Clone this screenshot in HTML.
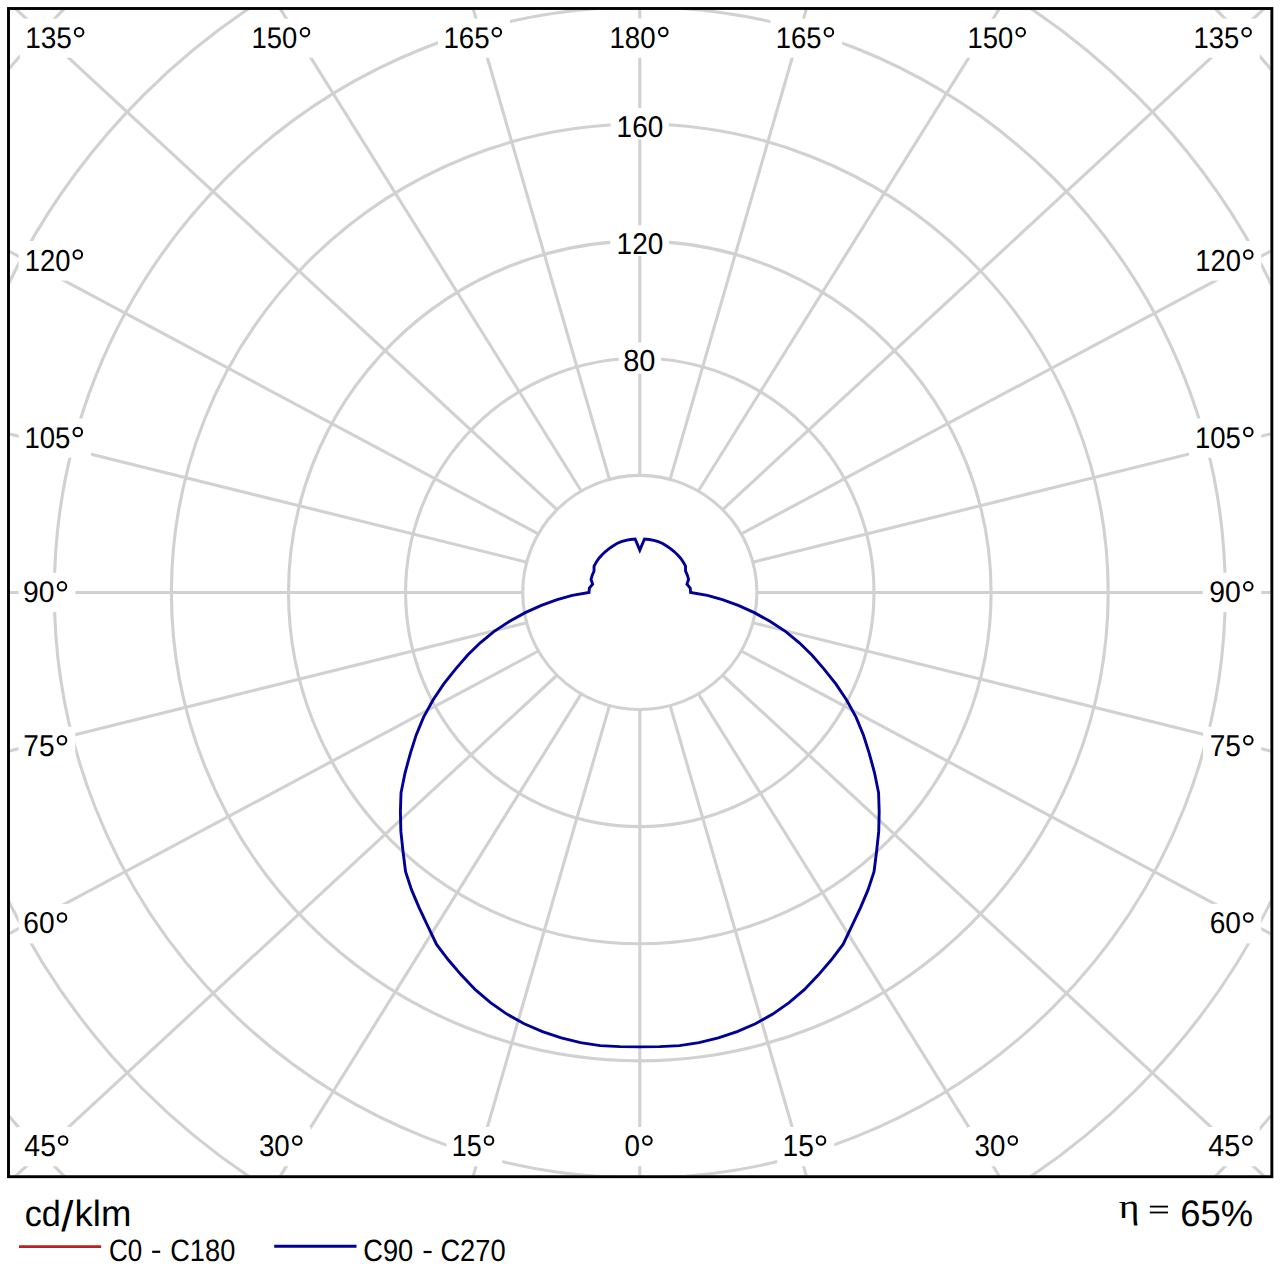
<!DOCTYPE html>
<html><head><meta charset="utf-8"><title>Polar LDC</title>
<style>html,body{margin:0;padding:0;background:#fff;}body{width:1280px;height:1280px;overflow:hidden;}svg{display:block;}text{text-rendering:geometricPrecision;}</style></head>
<body><svg width="1280" height="1280" viewBox="0 0 1280 1280">
<rect width="1280" height="1280" fill="#fff"/>
<clipPath id="cp"><rect x="10.0" y="10.0" width="1260.6" height="1165.4"/></clipPath>
<g clip-path="url(#cp)" fill="none" stroke="#d1d1d1" stroke-width="3.1">
<circle cx="639.8" cy="592.45" r="117.1"/>
<circle cx="639.8" cy="592.45" r="234.2"/>
<circle cx="639.8" cy="592.45" r="351.3"/>
<circle cx="639.8" cy="592.45" r="468.4"/>
<circle cx="639.8" cy="592.45" r="585.5"/>
<circle cx="639.8" cy="592.45" r="702.6"/>
<circle cx="639.8" cy="592.45" r="819.7"/>
<line x1="639.8" y1="709.55" x2="639.8" y2="1179.4"/>
<line x1="609.49" y1="705.56" x2="472.29" y2="1179.24"/>
<line x1="670.11" y1="705.56" x2="807.31" y2="1179.24"/>
<line x1="581.25" y1="693.86" x2="278.6" y2="1178.79"/>
<line x1="698.35" y1="693.86" x2="1001" y2="1178.79"/>
<line x1="557" y1="675.25" x2="13.4" y2="1178.12"/>
<line x1="722.6" y1="675.25" x2="1266.2" y2="1178.12"/>
<line x1="538.39" y1="651" x2="6.47" y2="935.09"/>
<line x1="741.21" y1="651" x2="1274.13" y2="935.62"/>
<line x1="526.69" y1="622.76" x2="6.12" y2="751.79"/>
<line x1="752.91" y1="622.76" x2="1274.48" y2="752.04"/>
<line x1="522.7" y1="592.45" x2="6" y2="592.45"/>
<line x1="756.9" y1="592.45" x2="1274.6" y2="592.45"/>
<line x1="526.69" y1="562.14" x2="6.12" y2="433.11"/>
<line x1="752.91" y1="562.14" x2="1274.48" y2="432.86"/>
<line x1="538.39" y1="533.9" x2="6.47" y2="249.81"/>
<line x1="741.21" y1="533.9" x2="1274.13" y2="249.28"/>
<line x1="557" y1="509.65" x2="13.94" y2="7.28"/>
<line x1="722.6" y1="509.65" x2="1265.66" y2="7.28"/>
<line x1="581.25" y1="491.04" x2="278.91" y2="6.61"/>
<line x1="698.35" y1="491.04" x2="1000.69" y2="6.61"/>
<line x1="609.49" y1="479.34" x2="472.43" y2="6.16"/>
<line x1="670.11" y1="479.34" x2="807.17" y2="6.16"/>
<line x1="639.8" y1="475.35" x2="639.8" y2="6"/>
</g>
<rect x="19.8" y="18.6" width="72.6" height="39.2" fill="#fff"/>
<rect x="246.2" y="18.6" width="72.1" height="39.2" fill="#fff"/>
<rect x="438" y="18.6" width="72.1" height="39.2" fill="#fff"/>
<rect x="770.4" y="18.6" width="71.8" height="39.2" fill="#fff"/>
<rect x="962.2" y="18.6" width="71.8" height="39.2" fill="#fff"/>
<rect x="1188.1" y="18.6" width="71.8" height="39.2" fill="#fff"/>
<rect x="604.1" y="18.4" width="72.5" height="39.4" fill="#fff"/>
<rect x="17.5" y="1126.9" width="58.9" height="39.4" fill="#fff"/>
<rect x="252.5" y="1126.9" width="58.1" height="39.4" fill="#fff"/>
<rect x="446.4" y="1126.9" width="55.9" height="39.4" fill="#fff"/>
<rect x="618.2" y="1126.9" width="42.5" height="39.4" fill="#fff"/>
<rect x="777.2" y="1126.9" width="57.1" height="39.4" fill="#fff"/>
<rect x="968.1" y="1126.9" width="58" height="39.4" fill="#fff"/>
<rect x="1201.4" y="1126.9" width="58.3" height="39.4" fill="#fff"/>
<rect x="18.6" y="241" width="72.5" height="39.6" fill="#fff"/>
<rect x="1189.4" y="241" width="71.85" height="39.6" fill="#fff"/>
<rect x="18.6" y="418.5" width="72.5" height="39.3" fill="#fff"/>
<rect x="1189" y="418.5" width="72.25" height="39.3" fill="#fff"/>
<rect x="18.6" y="572.8" width="56.7" height="39.2" fill="#fff"/>
<rect x="1202.7" y="572.8" width="58.55" height="39.2" fill="#fff"/>
<rect x="18.6" y="726.7" width="56.7" height="39.2" fill="#fff"/>
<rect x="1203.1" y="726.7" width="58.15" height="39.2" fill="#fff"/>
<rect x="18.6" y="903.9" width="56.7" height="39.5" fill="#fff"/>
<rect x="1203.1" y="903.9" width="58.15" height="39.5" fill="#fff"/>
<rect x="610.6" y="108.1" width="58.15" height="31.3" fill="#fff"/>
<rect x="610.3" y="225.2" width="58.7" height="30.9" fill="#fff"/>
<rect x="618.75" y="342.5" width="42.25" height="31.25" fill="#fff"/>
<text transform="translate(25.17 47.71) scale(0.94 1)" style="font-family:&quot;Liberation Sans&quot;, sans-serif;font-size:29.8px" fill="#000">135</text>
<ellipse cx="79.1" cy="32.15" rx="4.3" ry="4.25" fill="none" stroke="#000" stroke-width="2.0"/>
<text transform="translate(251.6 47.71) scale(0.92 1)" style="font-family:&quot;Liberation Sans&quot;, sans-serif;font-size:29.8px" fill="#000">150</text>
<ellipse cx="305" cy="32.15" rx="4.3" ry="4.25" fill="none" stroke="#000" stroke-width="2.0"/>
<text transform="translate(443.4 47.71) scale(0.93 1)" style="font-family:&quot;Liberation Sans&quot;, sans-serif;font-size:29.8px" fill="#000">165</text>
<ellipse cx="496.8" cy="32.15" rx="4.3" ry="4.25" fill="none" stroke="#000" stroke-width="2.0"/>
<text transform="translate(775.81 47.71) scale(0.92 1)" style="font-family:&quot;Liberation Sans&quot;, sans-serif;font-size:29.8px" fill="#000">165</text>
<ellipse cx="828.9" cy="32.15" rx="4.3" ry="4.25" fill="none" stroke="#000" stroke-width="2.0"/>
<text transform="translate(967.62 47.71) scale(0.92 1)" style="font-family:&quot;Liberation Sans&quot;, sans-serif;font-size:29.8px" fill="#000">150</text>
<ellipse cx="1020.7" cy="32.15" rx="4.3" ry="4.25" fill="none" stroke="#000" stroke-width="2.0"/>
<text transform="translate(1193.51 47.71) scale(0.92 1)" style="font-family:&quot;Liberation Sans&quot;, sans-serif;font-size:29.8px" fill="#000">135</text>
<ellipse cx="1246.6" cy="32.15" rx="4.3" ry="4.25" fill="none" stroke="#000" stroke-width="2.0"/>
<text transform="translate(609.48 47.71) scale(0.92 1)" style="font-family:&quot;Liberation Sans&quot;, sans-serif;font-size:30.08px" fill="#000">180</text>
<ellipse cx="663.3" cy="31.95" rx="4.3" ry="4.25" fill="none" stroke="#000" stroke-width="2.0"/>
<text transform="translate(24.35 1156.2) scale(0.93 1)" style="font-family:&quot;Liberation Sans&quot;, sans-serif;font-size:30.53px" fill="#000">45</text>
<ellipse cx="63.1" cy="1140.45" rx="4.3" ry="4.25" fill="none" stroke="#000" stroke-width="2.0"/>
<text transform="translate(258.94 1156.21) scale(0.92 1)" style="font-family:&quot;Liberation Sans&quot;, sans-serif;font-size:30.08px" fill="#000">30</text>
<ellipse cx="297.3" cy="1140.45" rx="4.3" ry="4.25" fill="none" stroke="#000" stroke-width="2.0"/>
<text transform="translate(451.86 1156.2) scale(0.88 1)" style="font-family:&quot;Liberation Sans&quot;, sans-serif;font-size:30.53px" fill="#000">15</text>
<ellipse cx="489" cy="1140.45" rx="4.3" ry="4.25" fill="none" stroke="#000" stroke-width="2.0"/>
<text transform="translate(624.62 1156.21) scale(0.92 1)" style="font-family:&quot;Liberation Sans&quot;, sans-serif;font-size:30.08px" fill="#000">0</text>
<ellipse cx="647.4" cy="1140.45" rx="4.3" ry="4.25" fill="none" stroke="#000" stroke-width="2.0"/>
<text transform="translate(782.57 1156.2) scale(0.92 1)" style="font-family:&quot;Liberation Sans&quot;, sans-serif;font-size:30.53px" fill="#000">15</text>
<ellipse cx="821" cy="1140.45" rx="4.3" ry="4.25" fill="none" stroke="#000" stroke-width="2.0"/>
<text transform="translate(974.54 1156.21) scale(0.92 1)" style="font-family:&quot;Liberation Sans&quot;, sans-serif;font-size:30.08px" fill="#000">30</text>
<ellipse cx="1012.8" cy="1140.45" rx="4.3" ry="4.25" fill="none" stroke="#000" stroke-width="2.0"/>
<text transform="translate(1208.24 1156.2) scale(0.94 1)" style="font-family:&quot;Liberation Sans&quot;, sans-serif;font-size:30.53px" fill="#000">45</text>
<ellipse cx="1247.4" cy="1140.45" rx="4.3" ry="4.25" fill="none" stroke="#000" stroke-width="2.0"/>
<text transform="translate(24.82 270.5) scale(0.9 1)" style="font-family:&quot;Liberation Sans&quot;, sans-serif;font-size:30.37px" fill="#000">120</text>
<ellipse cx="77.8" cy="254.55" rx="4.3" ry="4.25" fill="none" stroke="#000" stroke-width="2.0"/>
<text transform="translate(1195.32 270.5) scale(0.9 1)" style="font-family:&quot;Liberation Sans&quot;, sans-serif;font-size:30.37px" fill="#000">120</text>
<ellipse cx="1248.3" cy="254.55" rx="4.3" ry="4.25" fill="none" stroke="#000" stroke-width="2.0"/>
<text transform="translate(24.4 447.71) scale(0.92 1)" style="font-family:&quot;Liberation Sans&quot;, sans-serif;font-size:29.94px" fill="#000">105</text>
<ellipse cx="77.8" cy="432.05" rx="4.3" ry="4.25" fill="none" stroke="#000" stroke-width="2.0"/>
<text transform="translate(1194.9 447.71) scale(0.92 1)" style="font-family:&quot;Liberation Sans&quot;, sans-serif;font-size:29.94px" fill="#000">105</text>
<ellipse cx="1248.3" cy="432.05" rx="4.3" ry="4.25" fill="none" stroke="#000" stroke-width="2.0"/>
<text transform="translate(23.07 601.91) scale(0.95 1)" style="font-family:&quot;Liberation Sans&quot;, sans-serif;font-size:29.8px" fill="#000">90</text>
<ellipse cx="62" cy="586.35" rx="4.3" ry="4.25" fill="none" stroke="#000" stroke-width="2.0"/>
<text transform="translate(1209.37 601.91) scale(0.95 1)" style="font-family:&quot;Liberation Sans&quot;, sans-serif;font-size:29.8px" fill="#000">90</text>
<ellipse cx="1248.3" cy="586.35" rx="4.3" ry="4.25" fill="none" stroke="#000" stroke-width="2.0"/>
<text transform="translate(23.36 755.8) scale(0.93 1)" style="font-family:&quot;Liberation Sans&quot;, sans-serif;font-size:30.24px" fill="#000">75</text>
<ellipse cx="62" cy="740.25" rx="4.3" ry="4.25" fill="none" stroke="#000" stroke-width="2.0"/>
<text transform="translate(1209.66 755.8) scale(0.93 1)" style="font-family:&quot;Liberation Sans&quot;, sans-serif;font-size:30.24px" fill="#000">75</text>
<ellipse cx="1248.3" cy="740.25" rx="4.3" ry="4.25" fill="none" stroke="#000" stroke-width="2.0"/>
<text transform="translate(23.37 933.3) scale(0.93 1)" style="font-family:&quot;Liberation Sans&quot;, sans-serif;font-size:30.23px" fill="#000">60</text>
<ellipse cx="62" cy="917.45" rx="4.3" ry="4.25" fill="none" stroke="#000" stroke-width="2.0"/>
<text transform="translate(1209.67 933.3) scale(0.93 1)" style="font-family:&quot;Liberation Sans&quot;, sans-serif;font-size:30.23px" fill="#000">60</text>
<ellipse cx="1248.3" cy="917.45" rx="4.3" ry="4.25" fill="none" stroke="#000" stroke-width="2.0"/>
<text transform="translate(616.62 137.21) scale(0.93 1)" style="font-family:&quot;Liberation Sans&quot;, sans-serif;font-size:30.01px" fill="#000">160</text>
<text transform="translate(616.62 254.31) scale(0.93 1)" style="font-family:&quot;Liberation Sans&quot;, sans-serif;font-size:30.08px" fill="#000">120</text>
<text transform="translate(623.15 371.3) scale(0.95 1)" style="font-family:&quot;Liberation Sans&quot;, sans-serif;font-size:30.51px" fill="#000">80</text>
<path d="M639.8,1046.85 L659.63,1046.62 L679.45,1045.62 L699.07,1042.67 L718.36,1037.98 L737.15,1031.59 L755.36,1023.74 L772.74,1014.09 L789.09,1002.63 L804.32,989.63 L818.23,975.09 L831.15,960.03 L843.05,944.49 L852.03,925.59 L860.51,907.66 L868.02,889.88 L874.03,871.6 L876.66,850.94 L878.73,831.38 L879.19,811.81 L878.58,792.81 L874.47,772.52 L869.16,753.05 L863.38,734.89 L856.13,717.35 L846.74,700.18 L835.83,683.86 L823.65,668.6 L811.86,655.07 L799.36,642.76 L785.75,631.56 L769.94,621.3 L754.33,612.65 L738.25,605.41 L722.38,599.68 L707.34,595.4 L690.6,592.45 L690.21,588.04 L686.97,584.13 L688.58,579.38 L687.35,575.14 L685.57,571.11 L685.53,566.05 L683.22,562.05 L680.63,558.19 L677.49,554.76 L674.12,551.54 L670.49,548.63 L666.65,545.94 L662.62,543.51 L658.27,541.71 L653.78,540.29 L649.14,539.47 L644.47,539.05 L639.8,550.15 L635.13,539.05 L630.46,539.47 L625.82,540.29 L621.33,541.71 L616.98,543.51 L612.95,545.94 L609.11,548.63 L605.48,551.54 L602.11,554.76 L598.97,558.19 L596.38,562.05 L594.07,566.05 L594.03,571.11 L592.25,575.14 L591.02,579.38 L592.63,584.13 L589.39,588.04 L589,592.45 L572.26,595.4 L557.22,599.68 L541.35,605.41 L525.27,612.65 L509.66,621.3 L493.85,631.56 L480.24,642.76 L467.74,655.07 L455.95,668.6 L443.77,683.86 L432.86,700.18 L423.47,717.35 L416.22,734.89 L410.44,753.05 L405.13,772.52 L401.02,792.81 L400.41,811.81 L400.87,831.38 L402.94,850.94 L405.57,871.6 L411.58,889.88 L419.09,907.66 L427.57,925.59 L436.55,944.49 L448.45,960.03 L461.37,975.09 L475.28,989.63 L490.51,1002.63 L506.86,1014.09 L524.24,1023.74 L542.45,1031.59 L561.24,1037.98 L580.53,1042.67 L600.15,1045.62 L619.97,1046.62 Z" fill="none" stroke="#000094" stroke-width="2.9" stroke-linejoin="miter" stroke-miterlimit="10"/>
<rect x="8.5" y="8.5" width="1263.35" height="1168.2" fill="none" stroke="#000" stroke-width="2.9"/>
<text transform="translate(24.75 1225.94) scale(0.94 1)" style="font-family:&quot;Liberation Sans&quot;, sans-serif;font-size:36.36px" fill="#000">cd</text>
<text transform="translate(61.2 1230.68) scale(1.02 1)" style="font-family:&quot;Liberation Sans&quot;, sans-serif;font-size:42.89px" fill="#000">/</text>
<text transform="translate(74.55 1226.05) scale(1 1)" style="font-family:&quot;Liberation Sans&quot;, sans-serif;font-size:36.5px" fill="#000">klm</text>
<line x1="19" y1="1246.6" x2="101.2" y2="1246.6" stroke="#c01e1e" stroke-width="2.9"/>
<text transform="translate(109.08 1260.6) scale(0.84 1)" style="font-family:&quot;Liberation Sans&quot;, sans-serif;font-size:30.93px" fill="#000">C0</text>
<rect x="152.2" y="1250.7" width="8.0" height="2.2" fill="#000"/>
<text transform="translate(170.22 1260.6) scale(0.88 1)" style="font-family:&quot;Liberation Sans&quot;, sans-serif;font-size:30.93px" fill="#000">C180</text>
<line x1="274.2" y1="1246.3" x2="356.5" y2="1246.3" stroke="#000094" stroke-width="3"/>
<text transform="translate(363.21 1260.8) scale(0.89 1)" style="font-family:&quot;Liberation Sans&quot;, sans-serif;font-size:30.65px" fill="#000">C90</text>
<rect x="423.6" y="1250.9" width="8.0" height="2.2" fill="#000"/>
<text transform="translate(440.41 1260.8) scale(0.89 1)" style="font-family:&quot;Liberation Sans&quot;, sans-serif;font-size:30.65px" fill="#000">C270</text>
<text transform="translate(1118.78 1218.23) scale(1.13 1)" style="font-family:&quot;Liberation Serif&quot;, serif;font-size:35.08px" fill="#000">η</text>
<rect x="1149.8" y="1205.7" width="18.2" height="1.8" fill="#000"/>
<rect x="1149.8" y="1211.6" width="18.2" height="1.8" fill="#000"/>
<text transform="translate(1180.25 1225.94) scale(0.99 1)" style="font-family:&quot;Liberation Sans&quot;, sans-serif;font-size:36.72px" fill="#000">65%</text>
</svg></body></html>
